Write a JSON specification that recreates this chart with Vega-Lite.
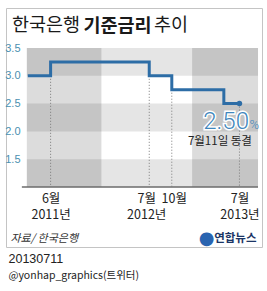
{
  "$schema": "https://vega.github.io/schema/vega-lite/v6.json",
  "width": 256,
  "height": 239,
  "autosize": {"type": "none"},
  "padding": {"left": 6, "top": 8, "right": 5, "bottom": 44},
  "background": "white",
  "view": {"stroke": "#c4c4c4", "strokeWidth": 1, "fill": "white"},
  "title": {
    "text": "한국은행　　　　추이",
    "orient": "top",
    "anchor": "start",
    "frame": "group",
    "offset": -41,
    "dx": 6,
    "font": "Noto Sans CJK KR",
    "fontSize": 18.5,
    "fontWeight": "normal",
    "color": "#1a1a1a",
    "baseline": "alphabetic"
  },
  "datasets": {
    "rate": [
      {"date": "2011/03/10", "rate": 3.0},
      {"date": "2011/06/10", "rate": 3.25},
      {"date": "2012/07/12", "rate": 3.0},
      {"date": "2012/10/11", "rate": 2.75},
      {"date": "2013/05/09", "rate": 2.5},
      {"date": "2013/07/11", "rate": 2.5}
    ],
    "years": [
      {"start": "2011/03/06", "end": "2012/01/01"},
      {"start": "2013/01/01", "end": "2013/09/24"}
    ],
    "rows": [
      {"lo": 3.0, "hi": 3.5, "start": "2011/03/06", "end": "2013/09/24"},
      {"lo": 2.0, "hi": 2.5, "start": "2011/03/06", "end": "2013/09/24"},
      {"lo": 1.0, "hi": 1.5, "start": "2011/03/06", "end": "2013/09/24"}
    ],
    "base": [
      {"start": "2011/02/14", "end": "2013/09/24", "rate": 1.0}
    ],
    "events": [
      {"date": "2011/06/10", "rate": 3.0},
      {"date": "2012/07/12", "rate": 3.0},
      {"date": "2012/10/11", "rate": 2.75},
      {"date": "2013/07/11", "rate": 2.5}
    ],
    "last": [
      {"date": "2013/07/11", "rate": 2.5, "value": "2.50", "unit": "%", "note": "7월11일 동결"}
    ]
  },
  "resolve": {"axis": {"x": "independent", "y": "independent"}},
  "layer": [
    {
      "data": {"name": "years"},
      "mark": {"type": "rect", "fill": "#dcdcdc"},
      "encoding": {
        "x": {
          "field": "start",
          "type": "temporal",
          "scale": {"domain": [{"year": 2010, "month": 12, "date": 12}, {"year": 2013, "month": 10, "date": 10}], "nice": false},
          "axis": {
            "orient": "bottom",
            "offset": -60,
            "values": [
              {"year": 2011, "month": 6, "date": 10},
              {"year": 2012, "month": 7, "date": 12},
              {"year": 2012, "month": 10, "date": 11},
              {"year": 2013, "month": 7, "date": 11}
            ],
            "labelExpr": "month(datum.value) == 9 ? '10월' : [(month(datum.value) + 1) + '월', year(datum.value) + '년']",
            "labelOverlap": false,
            "labelFlush": false,
            "labelAlign": "center",
            "labelBaseline": "top",
            "labelOffset": {"condition": [{"test": "month(datum.value) == 9", "value": 2}, {"test": "month(datum.value) == 6 && year(datum.value) == 2012", "value": -3}], "value": 0},
            "labelPadding": 5,
            "labelFontSize": 12.5,
            "labelLineHeight": 16,
            "labelFont": "Liberation Sans Narrow, Noto Sans CJK KR, sans-serif",
            "labelColor": "#222222",
            "ticks": false,
            "domain": false,
            "grid": false,
            "title": "자료/ 한국은행",
            "titleX": 4,
            "titleY": 51,
            "titleAlign": "left",
            "titleBaseline": "middle",
            "titleFont": "Noto Sans CJK KR",
            "titleFontSize": 11,
            "titleFontStyle": "italic",
            "titleFontWeight": "normal",
            "titleColor": "#333333"
          }
        },
        "x2": {"field": "end"},
        "y": {"datum": 1.0, "type": "quantitative", "scale": {"domain": [-0.08, 4.22], "nice": false, "zero": false}, "axis": null},
        "y2": {"datum": 3.5}
      }
    },
    {
      "data": {"name": "rows"},
      "mark": {"type": "rect", "fill": "#000000", "opacity": 0.1},
      "encoding": {
        "x": {"field": "start", "type": "temporal", "axis": null},
        "x2": {"field": "end"},
        "y": {
          "field": "lo",
          "type": "quantitative",
          "scale": {"domain": [-0.08, 4.22], "nice": false, "zero": false},
          "axis": {
            "orient": "left",
            "values": [1.5, 2, 2.5, 3, 3.5],
            "format": ".1f",
            "labelAlign": "right",
            "labelBaseline": "middle",
            "labelPadding": -14,
            "labelFontSize": 11,
            "labelFont": "Liberation Sans Narrow, Liberation Sans, sans-serif",
            "labelColor": "#4a90b0",
            "ticks": false,
            "domain": false,
            "grid": false,
            "title": "20130711",
            "titleAngle": 0,
            "titleX": 2,
            "titleY": 250,
            "titleAlign": "left",
            "titleBaseline": "middle",
            "titleFont": "Liberation Sans, sans-serif",
            "titleFontSize": 12.5,
            "titleFontWeight": "normal",
            "titleColor": "#222222"
          }
        },
        "y2": {"field": "hi"}
      }
    },
    {
      "data": {"name": "base"},
      "mark": {"type": "rule", "color": "#6b6b6b", "strokeWidth": 1.5},
      "encoding": {
        "x": {
          "field": "start",
          "type": "temporal",
          "axis": {
            "orient": "bottom",
            "labels": false,
            "ticks": false,
            "domain": false,
            "grid": false,
            "title": "●",
            "titleX": 200,
            "titleY": -9,
            "titleAlign": "center",
            "titleBaseline": "middle",
            "titleFont": "DejaVu Sans",
            "titleFontSize": 18,
            "titleFontWeight": "normal",
            "titleColor": "#2a64b0"
          }
        },
        "x2": {"field": "end"},
        "y": {"field": "rate", "type": "quantitative", "axis": null}
      }
    },
    {
      "data": {"name": "events"},
      "mark": {"type": "rule", "color": "#7a7a7a", "strokeWidth": 1, "strokeDash": [1, 2]},
      "encoding": {
        "x": {"field": "date", "type": "temporal", "axis": null},
        "y": {
          "field": "rate",
          "type": "quantitative",
          "axis": {
            "orient": "left",
            "labels": false,
            "ticks": false,
            "domain": false,
            "grid": false,
            "title": "@yonhap_graphics(트위터)",
            "titleAngle": 0,
            "titleX": 2,
            "titleY": 267,
            "titleAlign": "left",
            "titleBaseline": "middle",
            "titleFont": "Liberation Sans Narrow, Noto Sans CJK KR, sans-serif",
            "titleFontSize": 10.5,
            "titleFontWeight": "normal",
            "titleColor": "#222222"
          }
        },
        "y2": {"datum": 1.0}
      }
    },
    {
      "data": {"name": "rate"},
      "mark": {"type": "line", "interpolate": "step-after", "color": "#2d6da6", "strokeWidth": 3},
      "encoding": {
        "x": {
          "field": "date",
          "type": "temporal",
          "axis": {
            "orient": "top",
            "labels": false,
            "ticks": false,
            "domain": false,
            "grid": false,
            "title": "기준금리",
            "titleX": 77,
            "titleY": 23,
            "titleAlign": "left",
            "titleBaseline": "alphabetic",
            "titleFont": "Noto Sans CJK KR",
            "titleFontSize": 18.5,
            "titleFontWeight": "bold",
            "titleColor": "#1a1a1a"
          }
        },
        "y": {
          "field": "rate",
          "type": "quantitative",
          "axis": {
            "orient": "right",
            "labels": false,
            "ticks": false,
            "domain": false,
            "grid": false,
            "title": "연합뉴스",
            "titleAngle": 0,
            "titleX": -6,
            "titleY": 230,
            "titleAlign": "right",
            "titleBaseline": "middle",
            "titleFont": "Noto Sans CJK KR",
            "titleFontSize": 11.5,
            "titleFontWeight": "bold",
            "titleColor": "#1b3565"
          }
        }
      }
    },
    {
      "data": {"name": "last"},
      "mark": {"type": "circle", "size": 30, "color": "#2d6da6", "opacity": 1},
      "encoding": {
        "x": {"field": "date", "type": "temporal", "axis": null},
        "y": {"field": "rate", "type": "quantitative", "axis": null}
      }
    },
    {
      "data": {"name": "last"},
      "mark": {"type": "text", "align": "right", "baseline": "alphabetic", "dx": 9.5, "dy": 25.5, "font": "Roboto", "fontSize": 24, "fontWeight": 300, "fill": "white", "stroke": "white", "strokeWidth": 3},
      "encoding": {
        "x": {"field": "date", "type": "temporal", "axis": null},
        "y": {"field": "rate", "type": "quantitative", "axis": null},
        "text": {"field": "value"}
      }
    },
    {
      "data": {"name": "last"},
      "mark": {"type": "text", "align": "right", "baseline": "alphabetic", "dx": 9.5, "dy": 25.5, "font": "Roboto", "fontSize": 24, "fontWeight": 300, "fill": "#3f87bd"},
      "encoding": {
        "x": {"field": "date", "type": "temporal", "axis": null},
        "y": {"field": "rate", "type": "quantitative", "axis": null},
        "text": {"field": "value"}
      }
    },
    {
      "data": {"name": "last"},
      "mark": {"type": "text", "align": "left", "baseline": "alphabetic", "dx": 10, "dy": 25.5, "font": "Roboto", "fontSize": 13, "fontWeight": 300, "fill": "#3f87bd"},
      "encoding": {
        "x": {"field": "date", "type": "temporal", "axis": null},
        "y": {"field": "rate", "type": "quantitative", "axis": null},
        "text": {"field": "unit"}
      }
    },
    {
      "data": {"name": "last"},
      "mark": {"type": "text", "align": "right", "baseline": "middle", "dx": 12.5, "dy": 38.5, "font": "Noto Sans CJK KR", "fontSize": 11.5, "fill": "#222222"},
      "encoding": {
        "x": {"field": "date", "type": "temporal", "axis": null},
        "y": {"field": "rate", "type": "quantitative", "axis": null},
        "text": {"field": "note"}
      }
    }
  ]
}
